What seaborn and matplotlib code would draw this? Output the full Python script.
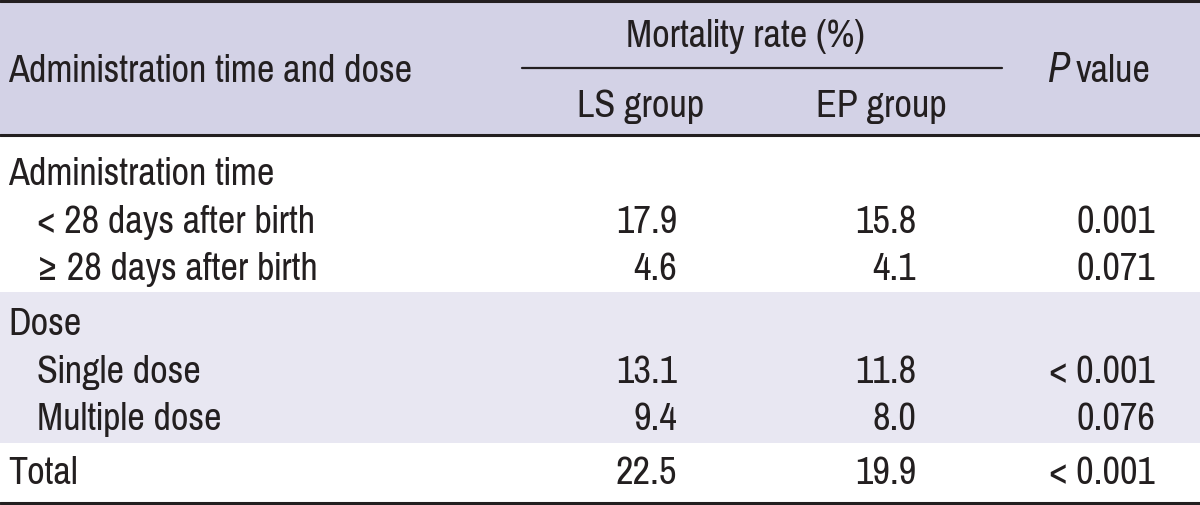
import matplotlib
matplotlib.use('Agg')
import matplotlib.pyplot as plt
import seaborn as sns

# ── Table data ────────────────────────────────────────────────
row_labels = ['Administration time', '< 28 days after birth', '≥ 28 days after birth',
              'Dose', 'Single dose', 'Multiple dose', 'Total']
row_indent = [0, 1, 1, 0, 1, 1, 0]
ls_group   = ['', '17.9', '4.6', '', '13.1', '9.4', '22.5']
ep_group   = ['', '15.8', '4.1', '', '11.8', '8.0', '19.9']
p_values   = ['', '0.001', '0.071', '', '< 0.001', '0.076', '< 0.001']

sns.set_theme(style='white')
plt.rcParams['font.family'] = ['Pragati Narrow', 'Roboto Condensed', 'DejaVu Sans']

W, H = 1200, 506
fig = plt.figure(figsize=(12, 5.06), dpi=100)
ax = fig.add_axes([0, 0, 1, 1])
ax.set_xlim(0, W); ax.set_ylim(H, 0); ax.axis('off')

head_bg = '#d3d2e6'
band_bg = '#e8e7f2'
ink     = '#231f20'
fs      = 30

# ── Header ────────────────────────────────────────────────────
ax.axhspan(0, 136, color=head_bg, lw=0)
ax.axhline(1.5, color=ink, lw=2.2)
ax.axhline(136, color=ink, lw=2.2)
ax.axhline(503.5, color=ink, lw=2.2)
ax.plot([522, 1002], [69, 69], color=ink, lw=1.6)

ax.text(8, 82, 'Administration time and dose', fontsize=fs, va='baseline', ha='left', color=ink)
ax.text(745, 47, 'Mortality rate (%)', fontsize=fs, va='baseline', ha='center', color=ink)
ax.text(641, 117, 'LS group', fontsize=fs, va='baseline', ha='center', color=ink)
ax.text(881, 117, 'EP group', fontsize=fs, va='baseline', ha='center', color=ink)
ax.text(1047, 82, 'P', fontsize=fs, va='baseline', ha='left', color=ink,
        family=['Roboto Condensed', 'DejaVu Sans'], style='italic')
ax.text(1076, 82, 'value', fontsize=fs, va='baseline', ha='left', color=ink)

# ── Body ──────────────────────────────────────────────────────
row_base = [185, 233, 280, 335, 383, 430, 484]
ax.axhspan(293, 444, color=band_bg, lw=0)
for i, y in enumerate(row_base):
    x0 = 8 if row_indent[i] == 0 else 37
    ax.text(x0, y, row_labels[i], fontsize=fs, va='baseline', ha='left', color=ink)
    ax.text(677, y, ls_group[i], fontsize=fs, va='baseline', ha='right', color=ink)
    ax.text(916, y, ep_group[i], fontsize=fs, va='baseline', ha='right', color=ink)
    ax.text(1155, y, p_values[i], fontsize=fs, va='baseline', ha='right', color=ink)

fig.savefig('out.png', dpi=100)
